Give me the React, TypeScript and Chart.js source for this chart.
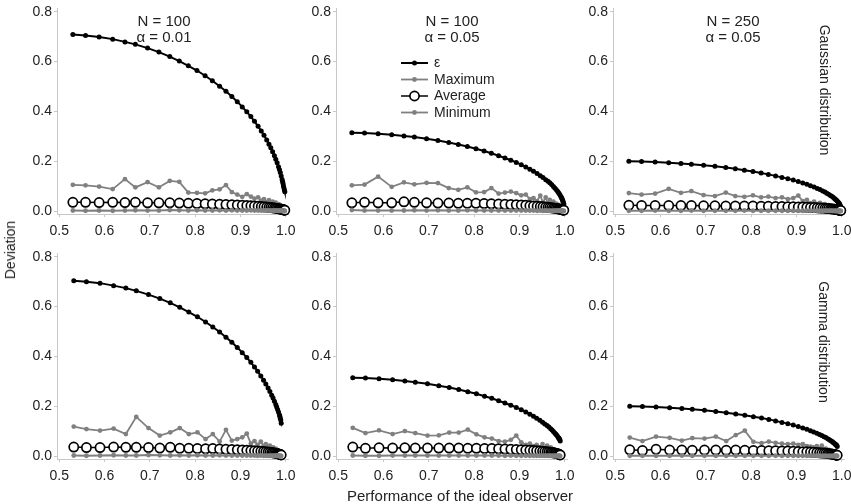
import { useEffect, useRef } from "react"
import { Chart, registerables } from "chart.js"

Chart.register(...registerables)

// ideal observer performance (x) for the two noise distributions
const xGauss = [0.530, 0.558, 0.588, 0.618, 0.645, 0.668, 0.695, 0.720, 0.744, 0.765, 0.785, 0.804, 0.822, 0.838, 0.854, 0.868, 0.881, 0.893, 0.904, 0.914, 0.923, 0.931, 0.939, 0.946, 0.952, 0.958, 0.963, 0.967, 0.971, 0.975, 0.978, 0.981, 0.984, 0.986, 0.988, 0.990, 0.992, 0.993, 0.994, 0.995, 0.996, 0.997, 0.998]
const xGamma = [0.532, 0.560, 0.590, 0.620, 0.647, 0.670, 0.697, 0.722, 0.745, 0.766, 0.786, 0.805, 0.823, 0.839, 0.854, 0.868, 0.881, 0.893, 0.904, 0.914, 0.923, 0.931, 0.938, 0.945, 0.951, 0.956, 0.961, 0.965, 0.969, 0.972, 0.975, 0.978, 0.980, 0.982, 0.984, 0.986, 0.987, 0.988, 0.989, 0.990]

// Gaussian, N = 100, alpha = 0.01
const epsG1 = [0.709, 0.705, 0.699, 0.690, 0.679, 0.669, 0.654, 0.638, 0.620, 0.602, 0.583, 0.564, 0.543, 0.523, 0.501, 0.481, 0.460, 0.439, 0.418, 0.398, 0.379, 0.360, 0.340, 0.321, 0.304, 0.285, 0.268, 0.254, 0.238, 0.222, 0.208, 0.194, 0.178, 0.167, 0.155, 0.141, 0.127, 0.118, 0.110, 0.100, 0.092, 0.084, 0.077]
const maxG1 = [0.105, 0.103, 0.098, 0.088, 0.128, 0.095, 0.116, 0.095, 0.121, 0.117, 0.074, 0.073, 0.071, 0.083, 0.087, 0.104, 0.076, 0.066, 0.057, 0.068, 0.058, 0.050, 0.055, 0.042, 0.048, 0.036, 0.044, 0.031, 0.038, 0.026, 0.034, 0.022, 0.028, 0.018, 0.024, 0.015, 0.019, 0.012, 0.015, 0.010, 0.012, 0.008, 0.009]
const avgG1 = [0.035, 0.035, 0.034, 0.035, 0.034, 0.035, 0.033, 0.033, 0.033, 0.032, 0.031, 0.030, 0.029, 0.028, 0.027, 0.026, 0.025, 0.024, 0.023, 0.022, 0.021, 0.020, 0.019, 0.018, 0.017, 0.016, 0.015, 0.014, 0.013, 0.012, 0.011, 0.010, 0.009, 0.008, 0.008, 0.007, 0.006, 0.006, 0.005, 0.005, 0.004, 0.004, 0.003]
const minG1 = [0.002, 0.001, 0.002, 0.001, 0.002, 0.003, 0.002, 0.002, 0.004, 0.003, 0.002, 0.003, 0.002, 0.002, 0.003, 0.002, 0.003, 0.002, 0.002, 0.002, 0.003, 0.002, 0.002, 0.002, 0.002, 0.002, 0.002, 0.001, 0.002, 0.001, 0.002, 0.001, 0.001, 0.001, 0.001, 0.001, 0.001, 0.001, 0.001, 0.000, 0.001, 0.000, 0.000]

// Gaussian, N = 100, alpha = 0.05
const epsG2 = [0.314, 0.313, 0.310, 0.306, 0.301, 0.297, 0.290, 0.283, 0.275, 0.267, 0.259, 0.250, 0.241, 0.232, 0.222, 0.213, 0.204, 0.195, 0.186, 0.177, 0.168, 0.160, 0.151, 0.142, 0.135, 0.126, 0.119, 0.113, 0.106, 0.098, 0.092, 0.086, 0.079, 0.074, 0.069, 0.063, 0.056, 0.053, 0.049, 0.044, 0.040, 0.034, 0.028]
const maxG2 = [0.103, 0.106, 0.138, 0.097, 0.115, 0.107, 0.113, 0.112, 0.092, 0.085, 0.095, 0.075, 0.076, 0.092, 0.070, 0.074, 0.078, 0.072, 0.063, 0.066, 0.048, 0.052, 0.040, 0.062, 0.035, 0.055, 0.030, 0.045, 0.026, 0.038, 0.022, 0.030, 0.018, 0.025, 0.015, 0.020, 0.012, 0.015, 0.010, 0.012, 0.008, 0.007, 0.006]
const avgG2 = [0.033, 0.035, 0.033, 0.033, 0.037, 0.035, 0.033, 0.032, 0.032, 0.031, 0.031, 0.031, 0.030, 0.029, 0.028, 0.027, 0.026, 0.025, 0.024, 0.023, 0.021, 0.020, 0.019, 0.018, 0.017, 0.016, 0.015, 0.014, 0.013, 0.012, 0.011, 0.010, 0.009, 0.008, 0.008, 0.007, 0.006, 0.006, 0.005, 0.005, 0.004, 0.004, 0.003]
const minG2 = [0.004, 0.002, 0.002, 0.002, 0.002, 0.003, 0.002, 0.003, 0.002, 0.002, 0.003, 0.002, 0.002, 0.002, 0.002, 0.002, 0.002, 0.002, 0.002, 0.002, 0.002, 0.002, 0.001, 0.002, 0.001, 0.002, 0.001, 0.001, 0.001, 0.001, 0.001, 0.001, 0.001, 0.001, 0.001, 0.001, 0.000, 0.001, 0.000, 0.000, 0.000, 0.000, 0.000]

// Gaussian, N = 250, alpha = 0.05
const epsG3 = [0.200, 0.199, 0.197, 0.194, 0.191, 0.188, 0.184, 0.180, 0.175, 0.170, 0.164, 0.159, 0.153, 0.147, 0.141, 0.135, 0.130, 0.124, 0.118, 0.112, 0.107, 0.101, 0.096, 0.090, 0.086, 0.080, 0.076, 0.071, 0.067, 0.062, 0.059, 0.055, 0.050, 0.047, 0.044, 0.040, 0.036, 0.033, 0.031, 0.028, 0.025, 0.020, 0.012]
const maxG3 = [0.072, 0.066, 0.070, 0.089, 0.073, 0.080, 0.064, 0.060, 0.074, 0.060, 0.057, 0.063, 0.055, 0.058, 0.052, 0.055, 0.048, 0.052, 0.062, 0.040, 0.045, 0.032, 0.038, 0.028, 0.033, 0.024, 0.028, 0.020, 0.024, 0.017, 0.020, 0.014, 0.016, 0.012, 0.013, 0.010, 0.011, 0.008, 0.009, 0.007, 0.007, 0.006, 0.005]
const avgG3 = [0.023, 0.022, 0.022, 0.022, 0.022, 0.022, 0.021, 0.021, 0.020, 0.020, 0.020, 0.020, 0.019, 0.019, 0.018, 0.018, 0.017, 0.017, 0.016, 0.016, 0.015, 0.014, 0.014, 0.013, 0.012, 0.012, 0.011, 0.010, 0.010, 0.009, 0.008, 0.008, 0.007, 0.006, 0.006, 0.005, 0.005, 0.004, 0.004, 0.003, 0.003, 0.002, 0.002]
const minG3 = [0.001, 0.001, 0.002, 0.001, 0.001, 0.002, 0.001, 0.001, 0.001, 0.001, 0.002, 0.001, 0.001, 0.001, 0.001, 0.001, 0.001, 0.001, 0.001, 0.001, 0.001, 0.001, 0.001, 0.001, 0.001, 0.001, 0.001, 0.001, 0.001, 0.001, 0.001, 0.000, 0.001, 0.000, 0.000, 0.000, 0.000, 0.000, 0.000, 0.000, 0.000, 0.000, 0.000]

// Gamma, N = 100, alpha = 0.01
const epsM1 = [0.704, 0.700, 0.694, 0.684, 0.674, 0.663, 0.648, 0.632, 0.615, 0.597, 0.578, 0.559, 0.538, 0.518, 0.498, 0.477, 0.457, 0.436, 0.415, 0.395, 0.376, 0.357, 0.340, 0.321, 0.304, 0.289, 0.273, 0.259, 0.244, 0.233, 0.220, 0.207, 0.197, 0.187, 0.177, 0.166, 0.160, 0.152, 0.145, 0.132]
const maxM1 = [0.118, 0.108, 0.102, 0.110, 0.088, 0.157, 0.112, 0.082, 0.095, 0.112, 0.088, 0.095, 0.068, 0.088, 0.058, 0.105, 0.062, 0.068, 0.075, 0.090, 0.050, 0.060, 0.045, 0.058, 0.040, 0.048, 0.035, 0.042, 0.030, 0.035, 0.025, 0.030, 0.020, 0.024, 0.016, 0.018, 0.013, 0.014, 0.010, 0.008]
const avgM1 = [0.036, 0.034, 0.034, 0.036, 0.035, 0.035, 0.034, 0.032, 0.035, 0.031, 0.031, 0.030, 0.029, 0.030, 0.028, 0.027, 0.026, 0.025, 0.024, 0.023, 0.022, 0.021, 0.020, 0.019, 0.018, 0.017, 0.016, 0.015, 0.014, 0.013, 0.012, 0.011, 0.010, 0.009, 0.008, 0.007, 0.007, 0.006, 0.005, 0.004]
const minM1 = [0.002, 0.001, 0.002, 0.003, 0.002, 0.002, 0.004, 0.003, 0.002, 0.003, 0.002, 0.003, 0.002, 0.002, 0.003, 0.002, 0.002, 0.002, 0.002, 0.002, 0.002, 0.002, 0.001, 0.002, 0.001, 0.001, 0.001, 0.001, 0.001, 0.001, 0.001, 0.001, 0.001, 0.000, 0.001, 0.000, 0.000, 0.000, 0.000, 0.000]

// Gamma, N = 100, alpha = 0.05
const epsM2 = [0.314, 0.313, 0.310, 0.306, 0.301, 0.296, 0.290, 0.282, 0.275, 0.267, 0.258, 0.250, 0.240, 0.232, 0.222, 0.213, 0.204, 0.195, 0.186, 0.177, 0.168, 0.160, 0.152, 0.144, 0.136, 0.129, 0.122, 0.116, 0.109, 0.104, 0.098, 0.092, 0.088, 0.084, 0.079, 0.074, 0.071, 0.069, 0.066, 0.060]
const maxM2 = [0.113, 0.092, 0.103, 0.088, 0.100, 0.092, 0.082, 0.083, 0.094, 0.094, 0.106, 0.087, 0.075, 0.070, 0.060, 0.058, 0.065, 0.082, 0.055, 0.045, 0.050, 0.040, 0.045, 0.035, 0.048, 0.030, 0.042, 0.028, 0.035, 0.022, 0.028, 0.020, 0.022, 0.015, 0.018, 0.012, 0.013, 0.010, 0.009, 0.007]
const avgM2 = [0.036, 0.031, 0.033, 0.032, 0.033, 0.032, 0.032, 0.032, 0.032, 0.032, 0.031, 0.031, 0.030, 0.030, 0.029, 0.028, 0.027, 0.026, 0.025, 0.024, 0.023, 0.022, 0.021, 0.020, 0.019, 0.018, 0.017, 0.016, 0.015, 0.014, 0.013, 0.012, 0.011, 0.010, 0.009, 0.008, 0.007, 0.006, 0.005, 0.004]
const minM2 = [0.002, 0.001, 0.001, 0.002, 0.002, 0.002, 0.002, 0.002, 0.002, 0.002, 0.002, 0.002, 0.002, 0.002, 0.002, 0.001, 0.002, 0.001, 0.001, 0.001, 0.001, 0.001, 0.001, 0.001, 0.001, 0.001, 0.001, 0.001, 0.001, 0.000, 0.001, 0.000, 0.000, 0.000, 0.000, 0.000, 0.000, 0.000, 0.000, 0.000]

// Gamma, N = 250, alpha = 0.05
const epsM3 = [0.200, 0.199, 0.197, 0.194, 0.191, 0.188, 0.184, 0.179, 0.174, 0.169, 0.164, 0.158, 0.153, 0.147, 0.141, 0.135, 0.130, 0.124, 0.118, 0.112, 0.107, 0.101, 0.096, 0.091, 0.086, 0.082, 0.077, 0.074, 0.069, 0.066, 0.062, 0.059, 0.056, 0.053, 0.050, 0.047, 0.045, 0.044, 0.042, 0.038]
const maxM3 = [0.074, 0.060, 0.078, 0.073, 0.062, 0.072, 0.070, 0.078, 0.060, 0.084, 0.102, 0.057, 0.052, 0.058, 0.053, 0.050, 0.048, 0.050, 0.045, 0.048, 0.040, 0.038, 0.035, 0.040, 0.030, 0.042, 0.025, 0.030, 0.022, 0.025, 0.018, 0.020, 0.015, 0.016, 0.012, 0.013, 0.010, 0.010, 0.008, 0.007]
const avgM3 = [0.025, 0.022, 0.027, 0.024, 0.024, 0.023, 0.024, 0.024, 0.023, 0.024, 0.023, 0.022, 0.022, 0.021, 0.021, 0.020, 0.020, 0.019, 0.018, 0.017, 0.017, 0.016, 0.015, 0.014, 0.013, 0.012, 0.012, 0.011, 0.010, 0.009, 0.008, 0.008, 0.007, 0.006, 0.006, 0.005, 0.004, 0.004, 0.003, 0.003]
const minM3 = [0.001, 0.001, 0.001, 0.001, 0.002, 0.001, 0.001, 0.001, 0.001, 0.001, 0.001, 0.001, 0.001, 0.001, 0.001, 0.001, 0.001, 0.001, 0.001, 0.001, 0.001, 0.001, 0.001, 0.001, 0.001, 0.000, 0.001, 0.000, 0.000, 0.000, 0.000, 0.000, 0.000, 0.000, 0.000, 0.000, 0.000, 0.000, 0.000, 0.000]

const seriesLabels = ["ε", "Maximum", "Average", "Minimum"]
const xTicks = [0.5, 0.6, 0.7, 0.8, 0.9, 1.0]
const yTicks = [0, 0.2, 0.4, 0.6, 0.8]

const FONT = "'Liberation Sans', Arial, sans-serif"
const GRAY = "#808080"
const AXIS = "#c8c8c8"
const TEXT = "#222"

// chart-area size and the space kept around it on each canvas
const PLOT_W = 231
const PLOT_H = 206
const AXIS_W = 50
const PAD_TOP = 12
const PAD_RIGHT = 18
const XAXIS_H = 34

type PanelProps = {
  left: number
  top: number
  x: number[]
  eps: number[]
  max: number[]
  avg: number[]
  min: number[]
  legend?: boolean
}

// legend drawn inside the middle top panel
const legendPlugin = {
  id: "seriesLegend",
  afterDraw(chart: any) {
    const { ctx, chartArea } = chart
    const x0 = chartArea.left + 65
    const x1 = x0 + 27
    const styles = [
      { color: "#000", width: 2, r: 2.5, open: false },
      { color: GRAY, width: 1.8, r: 2.4, open: false },
      { color: "#000", width: 1.5, r: 4.6, open: true },
      { color: GRAY, width: 1.8, r: 2.4, open: false }
    ]
    ctx.save()
    seriesLabels.forEach((label, i) => {
      const y = chartArea.top + 55 + i * 16.5
      const s = styles[i]
      ctx.strokeStyle = s.color
      ctx.lineWidth = s.width
      ctx.beginPath()
      ctx.moveTo(x0, y)
      ctx.lineTo(x1, y)
      ctx.stroke()
      ctx.beginPath()
      ctx.arc((x0 + x1) / 2, y, s.r, 0, Math.PI * 2)
      if (s.open) {
        ctx.fillStyle = "#fff"
        ctx.fill()
        ctx.lineWidth = 1.7
        ctx.stroke()
      } else {
        ctx.fillStyle = s.color
        ctx.fill()
      }
      ctx.fillStyle = TEXT
      ctx.font = `14px ${FONT}`
      ctx.textBaseline = "middle"
      ctx.textAlign = "left"
      ctx.fillText(label, x1 + 6, y + 0.5)
    })
    ctx.restore()
  }
}

function Panel({ left, top, x, eps, max, avg, min, legend }: PanelProps) {
  const chartRef = useRef<HTMLCanvasElement>(null)

  useEffect(() => {
    if (!chartRef.current) return
    const pts = (ys: number[]) => ys.map((y, i) => ({ x: x[i], y }))
    const chart = new Chart(chartRef.current, {
      type: "line",
      data: {
        datasets: [
          // first dataset is drawn on top
          { label: seriesLabels[3], data: pts(min), borderColor: GRAY, backgroundColor: GRAY, borderWidth: 1.8, pointRadius: 2.4, pointBorderWidth: 0 },
          { label: seriesLabels[2], data: pts(avg), borderColor: "#000", backgroundColor: "#fff", borderWidth: 1.5, pointRadius: 4.6, pointBorderWidth: 1.7 },
          { label: seriesLabels[1], data: pts(max), borderColor: GRAY, backgroundColor: GRAY, borderWidth: 1.8, pointRadius: 2.4, pointBorderWidth: 0 },
          { label: seriesLabels[0], data: pts(eps), borderColor: "#000", backgroundColor: "#000", borderWidth: 2, pointRadius: 2.5, pointBorderWidth: 0 }
        ]
      },
      options: {
        animation: false,
        responsive: false,
        layout: { padding: { left: 0, top: PAD_TOP, right: PAD_RIGHT, bottom: 0 } },
        elements: { line: { tension: 0 } },
        datasets: { line: { clip: false } } as any,
        plugins: { legend: { display: false }, tooltip: { enabled: false } },
        scales: {
          x: {
            type: "linear",
            min: 0.495,
            max: 1.005,
            afterBuildTicks: (s: any) => { s.ticks = xTicks.map(v => ({ value: v })) },
            afterFit: (s: any) => { s.height = XAXIS_H },
            grid: { drawOnChartArea: false, color: AXIS, tickLength: 3 },
            border: { color: AXIS },
            ticks: { callback: (v: any) => Number(v).toFixed(1), color: TEXT, font: { size: 14, family: FONT }, padding: 6, maxRotation: 0, autoSkip: false }
          },
          y: {
            type: "linear",
            min: -0.012,
            max: 0.815,
            afterBuildTicks: (s: any) => { s.ticks = yTicks.map(v => ({ value: v })) },
            afterFit: (s: any) => { s.width = AXIS_W },
            grid: { drawOnChartArea: false, color: AXIS, tickLength: 3 },
            border: { color: AXIS },
            ticks: { callback: (v: any) => Number(v).toFixed(1), color: TEXT, font: { size: 14, family: FONT }, padding: 2 }
          }
        }
      },
      plugins: legend ? [legendPlugin] : []
    })
    return () => chart.destroy()
  }, [])

  return (
    <canvas
      ref={chartRef}
      width={AXIS_W + PLOT_W + PAD_RIGHT}
      height={PAD_TOP + PLOT_H + XAXIS_H}
      style={{ position: "absolute", left: left - AXIS_W, top: top - PAD_TOP }}
    />
  )
}

function Label({ x, y, text, rotate = 0, size = 14 }: { x: number; y: number; text: string; rotate?: number; size?: number }) {
  return (
    <div
      style={{
        position: "absolute",
        left: x,
        top: y,
        transform: `translate(-50%, -50%) rotate(${rotate}deg)`,
        whiteSpace: "pre",
        fontSize: size,
        fontWeight: 400,
        color: TEXT,
        lineHeight: 1
      }}
    >
      {text}
    </div>
  )
}

export default function App() {
  const colLeft = [57, 336, 613]
  const rowTop = [8, 253]
  return (
    <div style={{ position: "absolute", left: 0, top: 0, width: 851, height: 504, background: "#fff", fontFamily: FONT, overflow: "hidden" }}>
      <Panel left={colLeft[0]} top={rowTop[0]} x={xGauss} eps={epsG1} max={maxG1} avg={avgG1} min={minG1} />
      <Panel left={colLeft[1]} top={rowTop[0]} x={xGauss} eps={epsG2} max={maxG2} avg={avgG2} min={minG2} legend />
      <Panel left={colLeft[2]} top={rowTop[0]} x={xGauss} eps={epsG3} max={maxG3} avg={avgG3} min={minG3} />
      <Panel left={colLeft[0]} top={rowTop[1]} x={xGamma} eps={epsM1} max={maxM1} avg={avgM1} min={minM1} />
      <Panel left={colLeft[1]} top={rowTop[1]} x={xGamma} eps={epsM2} max={maxM2} avg={avgM2} min={minM2} />
      <Panel left={colLeft[2]} top={rowTop[1]} x={xGamma} eps={epsM3} max={maxM3} avg={avgM3} min={minM3} />

      <Label x={164} y={20} text="N = 100" size={15} />
      <Label x={164} y={36} text="α = 0.01" size={15} />
      <Label x={452} y={20} text="N = 100" size={15} />
      <Label x={452} y={36} text="α = 0.05" size={15} />
      <Label x={733} y={20} text="N = 250" size={15} />
      <Label x={733} y={36} text="α = 0.05" size={15} />

      <Label x={825} y={90} text="Gaussian distribution" rotate={90} />
      <Label x={824} y={342} text="Gamma distribution" rotate={90} />
      <Label x={10} y={250} text="Deviation" rotate={-90} size={14} />
      <Label x={460} y={495} text="Performance of the ideal observer" size={15} />
    </div>
  )
}
